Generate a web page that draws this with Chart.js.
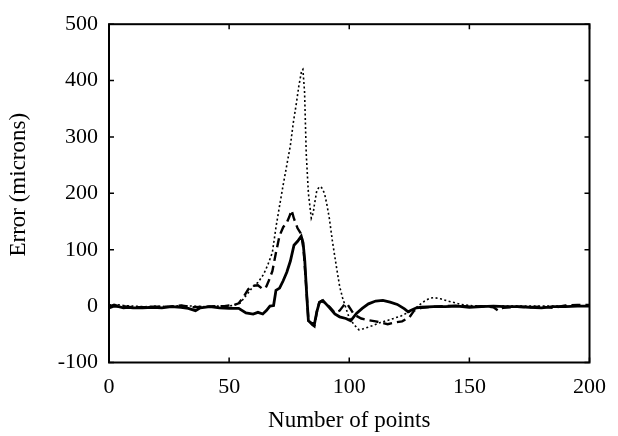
<!DOCTYPE html>
<html lang="en">
<head>
  <meta charset="UTF-8">
  <title>Error vs number of points</title>
  <script src="https://cdn.jsdelivr.net/npm/chart.js@4.4.1/dist/chart.umd.min.js"></script>
  <style>
    body { margin: 0; background: #fff; }
  </style>
</head>
<body>
  <canvas id="errChart" width="618" height="436"></canvas>

  <script>
    // axis ticks
    const xTicks = [0, 50, 100, 150, 200];
    const yTicks = [-100, 0, 100, 200, 300, 400, 500];

    // [number of points, error in microns]
    const solidLine = [
      [0,-3],[2,0],[4,-1],[6,-3],[8,-2],[10,-3],[14,-3],[18,-2],[22,-3],[26,-1],[30,-2],
      [33,-4],[36,-8],[38,-3],[42,-1],[46,-3],[50,-4],[54,-4],[57,-12],[60,-14],[62,-11],
      [64,-14],[65.5,-8],[67,0],[68.5,1],[69.5,28],[71,32],[72.5,45],[74,60],[75.5,80],
      [77,108],[78.5,115],[80,124],[80.8,112],[81.5,80],[82.3,20],[83,-26],[84.2,-30],
      [85.5,-32],[86.5,-10],[87.6,7],[89,10],[90.5,3],[92,-4],[94,-14],[96,-19],[98.6,-22],
      [100.6,-26],[103,-13],[105.4,-4],[108,4],[111,9],[114,10],[117,7],[120,3],[123,-5],
      [124.5,-10],[126,-7],[128,-3],[130,-2],[135,-1],[140,-1],[145,0],[150,-2],[155,-1],
      [160,0],[165,-1],[170,-1],[175,-2],[180,-3],[185,-1],[190,-1],[195,0],[200,0]
    ];

    const dashedLine = [
      [0,0],[2,2],[5,0],[10,-2],[15,-2],[20,-1],[25,-1],[30,1],[35,-2],[40,-1],[45,0],
      [48,0],[50,1],[52,2],[54,5],[56,16],[58,30],[60,36],[62,37],[64,30],[65.5,35],
      [66.5,45],[68,62],[69.5,95],[71,125],[72.5,140],[74,148],[75,158],[76,170],[77,155],
      [78.5,138],[80,128],[81,100],[82,40],[83,-25],[84.5,-33],[85.5,-36],[86.5,-10],
      [87.5,6],[88.5,9],[90,5],[92,-2],[94,-12],[96,-8],[98,3],[99,5],[100.5,-5],[102,-15],
      [105,-22],[108,-25],[111,-27],[114,-30],[116,-32],[119,-29],[122,-27],[125,-20],
      [127,-8],[130,-3],[135,-1],[140,0],[145,1],[150,-1],[155,0],[160,-2],[162,-8],
      [164,-3],[170,-1],[175,-2],[180,-1],[185,-3],[190,1],[195,2],[200,2]
    ];

    const dottedLine = [
      [0,2],[3,3],[6,1],[10,0],[15,-1],[20,0],[25,-1],[30,1],[35,0],[40,-1],[45,0],[50,0],
      [52,2],[54.5,5],[57.5,21],[60,35],[62,42],[64.3,56],[66,72],[68,95],[69.5,140],
      [71,178],[72.5,215],[74,250],[75.5,285],[76.7,325],[78,360],[79,390],[80.2,418],
      [80.7,420],[81.4,380],[82.1,270],[83,200],[84.2,156],[85,165],[85.5,180],[86.5,205],
      [87.6,212],[88.5,210],[89.7,200],[90.7,180],[91.7,156],[93,115],[94.5,74],[96,35],
      [97.2,15],[98.5,-2],[99.9,-20],[102,-33],[104,-42],[106,-40],[109.5,-35],[113,-29],
      [117,-24],[121.8,-17],[125,-10],[127.3,-5],[129.5,3],[131.4,9],[133.5,14],[135.5,15],
      [138,13],[141,9],[144,6],[146.5,3],[150,1],[155,0],[160,0],[170,0],[180,0],[190,0],[200,0]
    ];

    const serif = 'Liberation Serif, Times New Roman, serif';

    // box around the plot plus inward tick marks on all four sides
    const frameTicks = {
      id: 'frameTicks',
      afterDraw(chart) {
        const { ctx, chartArea: a, scales } = chart;
        ctx.save();
        ctx.strokeStyle = '#000';
        ctx.lineWidth = 2;
        ctx.strokeRect(a.left, a.top, a.right - a.left, a.bottom - a.top);
        ctx.lineWidth = 1.5;
        ctx.beginPath();
        xTicks.forEach(v => {
          const px = scales.x.getPixelForValue(v);
          ctx.moveTo(px, a.bottom); ctx.lineTo(px, a.bottom - 5);
          ctx.moveTo(px, a.top); ctx.lineTo(px, a.top + 5);
        });
        yTicks.forEach(v => {
          const py = scales.y.getPixelForValue(v);
          ctx.moveTo(a.left, py); ctx.lineTo(a.left + 5, py);
          ctx.moveTo(a.right, py); ctx.lineTo(a.right - 5, py);
        });
        ctx.stroke();
        ctx.restore();
      }
    };

    new Chart(document.getElementById('errChart'), {
      type: 'line',
      data: {
        datasets: [
          { data: solidLine, borderColor: '#000', borderWidth: 2.8 },
          { data: dashedLine, borderColor: '#000', borderWidth: 2.4, borderDash: [9, 5] },
          { data: dottedLine, borderColor: '#000', borderWidth: 1.6, borderDash: [2, 2.5] }
        ]
      },
      options: {
        responsive: false,
        animation: false,
        layout: { padding: { left: 0, right: 22, top: 22, bottom: 0 } },
        elements: { point: { radius: 0 }, line: { tension: 0 } },
        plugins: { legend: { display: false }, tooltip: { enabled: false } },
        scales: {
          x: {
            type: 'linear',
            min: 0, max: 200,
            afterBuildTicks: s => { s.ticks = xTicks.map(v => ({ value: v })); },
            afterFit: s => { s.height = 73.5; },
            grid: { display: false, drawTicks: false },
            border: { display: false },
            ticks: { color: '#000', padding: 12, font: { family: serif, size: 22 } },
            title: {
              display: true, text: 'Number of points', color: '#000',
              font: { family: serif, size: 23 }, padding: { bottom: 1 }
            }
          },
          y: {
            type: 'linear',
            min: -100, max: 500,
            afterBuildTicks: s => { s.ticks = yTicks.map(v => ({ value: v })); },
            afterFit: s => { s.width = 109; },
            grid: { display: false, drawTicks: false },
            border: { display: false },
            ticks: { color: '#000', padding: 11, font: { family: serif, size: 22 } },
            title: {
              display: true, text: '   Error (microns)', color: '#000',
              font: { family: serif, size: 23 }, padding: { top: 5 }
            }
          }
        }
      },
      plugins: [frameTicks]
    });
  </script>
</body>
</html>
